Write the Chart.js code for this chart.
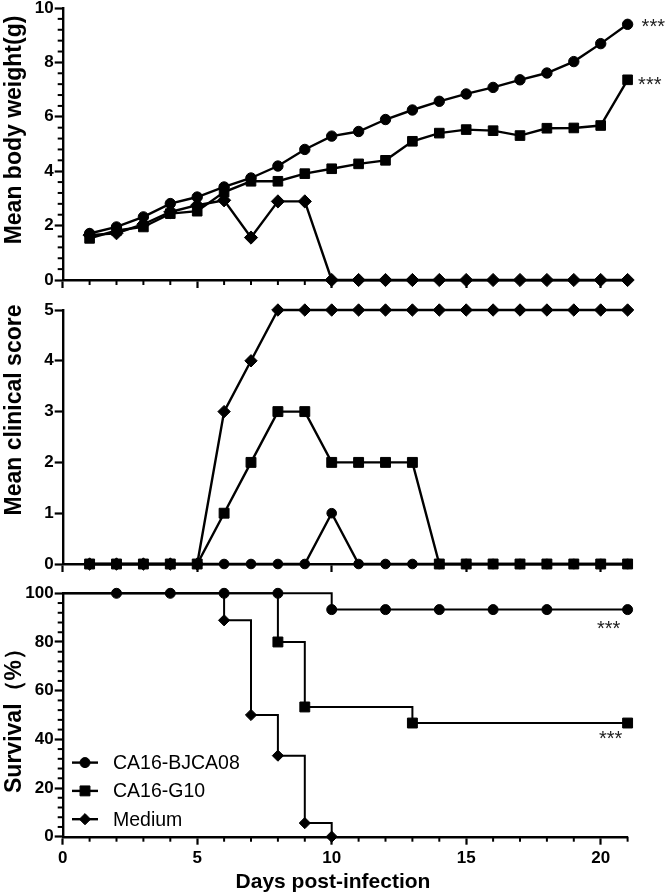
<!DOCTYPE html>
<html><head><meta charset="utf-8">
<script src="https://cdn.jsdelivr.net/npm/chart.js@4/dist/chart.umd.min.js"></script>
<style>
html,body{margin:0;padding:0;background:#fff;}
#wrap{position:relative;width:666px;height:894px;overflow:hidden;background:#fff;}
canvas{position:absolute;left:0;}
</style></head><body>
<div id="wrap">
<canvas id="c1" width="666" height="290" style="top:0px"></canvas>
<canvas id="c2" width="666" height="290" style="top:290px"></canvas>
<canvas id="c3" width="666" height="314" style="top:580px"></canvas>
</div>
<script>
// ---------- data ----------
const days = [1,2,3,4,5,6,7,8,9,10,11,12,13,14,15,16,17,18,19,20,21];
const seriesNames = ['CA16-BJCA08', 'CA16-G10', 'Medium'];

const weightBJCA08 = [1.71,1.95,2.32,2.81,3.05,3.42,3.75,4.19,4.80,5.29,5.46,5.90,6.25,6.57,6.84,7.08,7.36,7.61,8.03,8.69,9.40];
const weightG10    = [1.53,1.82,1.95,2.44,2.53,3.23,3.63,3.63,3.91,4.09,4.27,4.40,5.10,5.40,5.53,5.49,5.31,5.58,5.59,5.68,7.36];
const weightMedium = [1.65,1.72,2.05,2.50,2.75,2.93,1.56,2.89,2.89,0,0,0,0,0,0,0,0,0,0,0,0];

const scoreBJCA08 = [0,0,0,0,0,0,0,0,0,1,0,0,0,0,0,0,0,0,0,0,0];
const scoreG10    = [0,0,0,0,0,1,2,3,3,2,2,2,2,0,0,0,0,0,0,0,0];
const scoreMedium = [0,0,0,0,0,3,4,5,5,5,5,5,5,5,5,5,5,5,5,5,5];

const survDaysBJCA08 = [0,2,4,6,8,10,12,14,16,18,21];
const survBJCA08     = [100,100,100,100,100,93.3,93.3,93.3,93.3,93.3,93.3];
const survDaysG10    = [0,8,9,13,21];
const survG10        = [100,80,53.3,46.7,46.7];
const survDaysMedium = [0,6,7,8,9,10];
const survMedium     = [100,88.9,50,33.3,5.6,0];

const weightTicks   = [0,2,4,6,8,10];
const scoreTicks    = [0,1,2,3,4,5];
const survivalTicks = [0,20,40,60,80,100];
const dayTicks      = [0,5,10,15,20];

const titleWeight   = 'Mean body weight(g)';
const titleScore    = 'Mean clinical score';
const titleSurvival = 'Survival（%）';
const titleDays     = 'Days post-infection';
const sigText       = '***';

// ---------- styling ----------
const BLACK = '#000';
const FONT = '"Liberation Sans", Arial, Helvetica, sans-serif';
const styles = [
  {pointStyle:'circle', r:[5.2,4.8,5]},
  {pointStyle:'rect', r:[6.8,7,7]},
  {pointStyle:'rectRot', r:[6.6,6.2,5.6]}
];
const drawOrder = [1,0,2];
const lineW = [2.4, 2.4, 2];

function pts(xs, ys){ return xs.map((x,i)=>({x:x, y:ys[i]})); }

function makeDs(dataList, panel, stepped, hideFirst){
  return dataList.map((d,i)=>({
    label: seriesNames[i],
    data: d,
    order: drawOrder[i],
    borderColor: BLACK,
    backgroundColor: BLACK,
    borderWidth: lineW[panel],
    pointStyle: styles[i].pointStyle,
    pointRadius: hideFirst ? (c => c.dataIndex === 0 ? 0 : styles[i].r[panel]) : styles[i].r[panel],
    pointBorderWidth: 1,
    pointBorderColor: BLACK,
    pointBackgroundColor: BLACK,
    tension: 0,
    stepped: stepped,
    clip: false,
    fill: false
  }));
}

function xScale(height, showLabels){
  return {
    type:'linear', min:0, max:21,
    afterBuildTicks: s => { s.ticks = dayTicks.map(v=>({value:v})); },
    afterFit: s => { s.height = height; s.paddingLeft = 0; s.paddingRight = 0; },
    border:{display:true, color:BLACK, width:2.4},
    grid:{display:true, drawOnChartArea:false, drawTicks:true, tickLength:8, tickColor:BLACK, tickWidth:2.2, color:BLACK},
    ticks:{display:showLabels, autoSkip:false, maxRotation:0, padding:3, color:BLACK,
           font:{family:FONT, size:17, weight:'bold'}, callback: v => String(v)}
  };
}
function yScale(min, max, majors){
  return {
    type:'linear', min:min, max:max,
    afterBuildTicks: s => { s.ticks = majors.map(v=>({value:v})); },
    afterFit: s => { s.width = 62.7; s.paddingTop = 0; s.paddingBottom = 0; },
    border:{display:true, color:BLACK, width:2.4},
    grid:{display:true, drawOnChartArea:false, drawTicks:true, tickLength:8, tickColor:BLACK, tickWidth:2.2, color:BLACK},
    ticks:{display:true, autoSkip:false, padding:1, color:BLACK,
           font:{family:FONT, size:17, weight:'bold'}, callback: v => String(v)}
  };
}

// ---------- plugins ----------
const minorTicks = {
  id:'minorTicks',
  beforeDatasetsDraw(chart, args, opts){
    const ctx = chart.ctx, ca = chart.chartArea;
    ctx.save(); ctx.strokeStyle = BLACK; ctx.lineWidth = 2;
    (opts.list || []).forEach(([id, step]) => {
      const s = chart.scales[id];
      const majors = s.ticks.map(t=>t.value);
      const n = Math.round((s.max - s.min)/step);
      for (let k=0;k<=n;k++){
        const v = s.min + k*step;
        if (majors.some(m => Math.abs(m - v) < 1e-6)) continue;
        const p = s.getPixelForValue(v);
        ctx.beginPath();
        if (s.isHorizontal()){ ctx.moveTo(p, ca.bottom); ctx.lineTo(p, ca.bottom + 5); }
        else { ctx.moveTo(ca.left - 5, p); ctx.lineTo(ca.left, p); }
        ctx.stroke();
      }
    });
    ctx.restore();
  }
};
const axisTitles = {
  id:'axisTitles',
  afterDraw(chart, args, opts){
    const ctx = chart.ctx;
    ctx.save(); ctx.fillStyle = BLACK;
    if (opts.y){
      ctx.font = 'bold 23px ' + FONT;
      ctx.translate(opts.y.x, opts.y.y); ctx.rotate(-Math.PI/2);
      ctx.textAlign = 'center'; ctx.textBaseline = 'middle';
      ctx.fillText(opts.y.text, 0, 0);
      ctx.setTransform(1,0,0,1,0,0);
    }
    if (opts.x){
      ctx.font = 'bold 21px ' + FONT;
      ctx.textAlign = 'center'; ctx.textBaseline = 'middle';
      ctx.fillText(opts.x.text, opts.x.x, opts.x.y);
    }
    ctx.restore();
  }
};
const sigMarks = {
  id:'sigMarks',
  afterDatasetsDraw(chart, args, opts){
    const ctx = chart.ctx;
    ctx.save(); ctx.fillStyle = '#222'; ctx.font = '20px ' + FONT;
    ctx.textAlign = 'left'; ctx.textBaseline = 'alphabetic';
    (opts.list || []).forEach(m => {
      const meta = chart.getDatasetMeta(m.ds);
      const el = meta.data[meta.data.length - 1];
      ctx.fillText(sigText, el.x + m.dx, el.y + m.dy + 11.5);
    });
    ctx.restore();
  }
};
const innerLegend = {
  id:'innerLegend',
  afterDatasetsDraw(chart, args, opts){
    if (!opts.show) return;
    const ctx = chart.ctx;
    ctx.save();
    chart.data.datasets.forEach((ds, i) => {
      const y = opts.y0 + i*opts.dy;
      ctx.strokeStyle = BLACK; ctx.lineWidth = 2.4;
      ctx.beginPath(); ctx.moveTo(opts.x0, y); ctx.lineTo(opts.x0 + 26, y); ctx.stroke();
      ctx.fillStyle = BLACK; ctx.strokeStyle = BLACK; ctx.lineWidth = 1;
      Chart.helpers.drawPoint(ctx, {pointStyle: ds.pointStyle, radius: styles[i].r[2], rotation:0, borderWidth:1}, opts.x0 + 13, y);
      ctx.fillStyle = BLACK;
      ctx.font = '19.5px ' + FONT; ctx.textAlign = 'left'; ctx.textBaseline = 'middle';
      ctx.fillText(ds.label, opts.x0 + 41, y + 1);
    });
    ctx.restore();
  }
};

function baseOptions(pad, extra){
  return Object.assign({
    responsive:false, animation:false, devicePixelRatio:1,
    layout:{padding:pad},
    events:[]
  }, extra);
}

// ---------- chart 1: body weight ----------
new Chart(document.getElementById('c1'), {
  type:'line',
  data:{datasets: makeDs([pts(days,weightBJCA08), pts(days,weightG10), pts(days,weightMedium)], 0, false, false)},
  options: baseOptions({top:8, right:38.4, left:0, bottom:0}, {
    scales:{ x: xScale(10, false), y: yScale(0, 10, weightTicks) },
    plugins:{
      legend:{display:false}, tooltip:{enabled:false},
      minorTicks:{list:[['x',1],['y',0.4]]},
      axisTitles:{y:{text:titleWeight, x:15, y:130}},
      sigMarks:{list:[{ds:0, dx:14, dy:-2.6},{ds:1, dx:10.5, dy:0}]},
      innerLegend:{show:false}
    }
  }),
  plugins:[minorTicks, axisTitles, sigMarks, innerLegend]
});

// ---------- chart 2: clinical score ----------
new Chart(document.getElementById('c2'), {
  type:'line',
  data:{datasets: makeDs([pts(days,scoreBJCA08), pts(days,scoreG10), pts(days,scoreMedium)], 1, false, false)},
  options: baseOptions({top:20, right:38.4, left:0, bottom:0}, {
    scales:{ x: xScale(16, false), y: yScale(0, 5, scoreTicks) },
    plugins:{
      legend:{display:false}, tooltip:{enabled:false},
      minorTicks:{list:[]},
      axisTitles:{y:{text:titleScore, x:15, y:120}},
      sigMarks:{list:[]},
      innerLegend:{show:false}
    }
  }),
  plugins:[minorTicks, axisTitles, sigMarks, innerLegend]
});

// ---------- chart 3: survival ----------
new Chart(document.getElementById('c3'), {
  type:'line',
  data:{datasets: makeDs([pts(survDaysBJCA08,survBJCA08), pts(survDaysG10,survG10), pts(survDaysMedium,survMedium)], 2, true, true)},
  options: baseOptions({top:13.3, right:38.4, left:0, bottom:0}, {
    scales:{ x: xScale(57.3, true), y: yScale(0, 100, survivalTicks) },
    plugins:{
      legend:{display:false}, tooltip:{enabled:false},
      minorTicks:{list:[['x',1],['y',4]]},
      axisTitles:{y:{text:titleSurvival, x:15, y:135}, x:{text:titleDays, x:333, y:302}},
      sigMarks:{list:[{ds:0, dx:-30.6, dy:13.4},{ds:1, dx:-28.6, dy:10}]},
      innerLegend:{show:true, x0:72, y0:182.6, dy:28.3}
    }
  }),
  plugins:[minorTicks, axisTitles, sigMarks, innerLegend]
});
</script>
</body></html>
